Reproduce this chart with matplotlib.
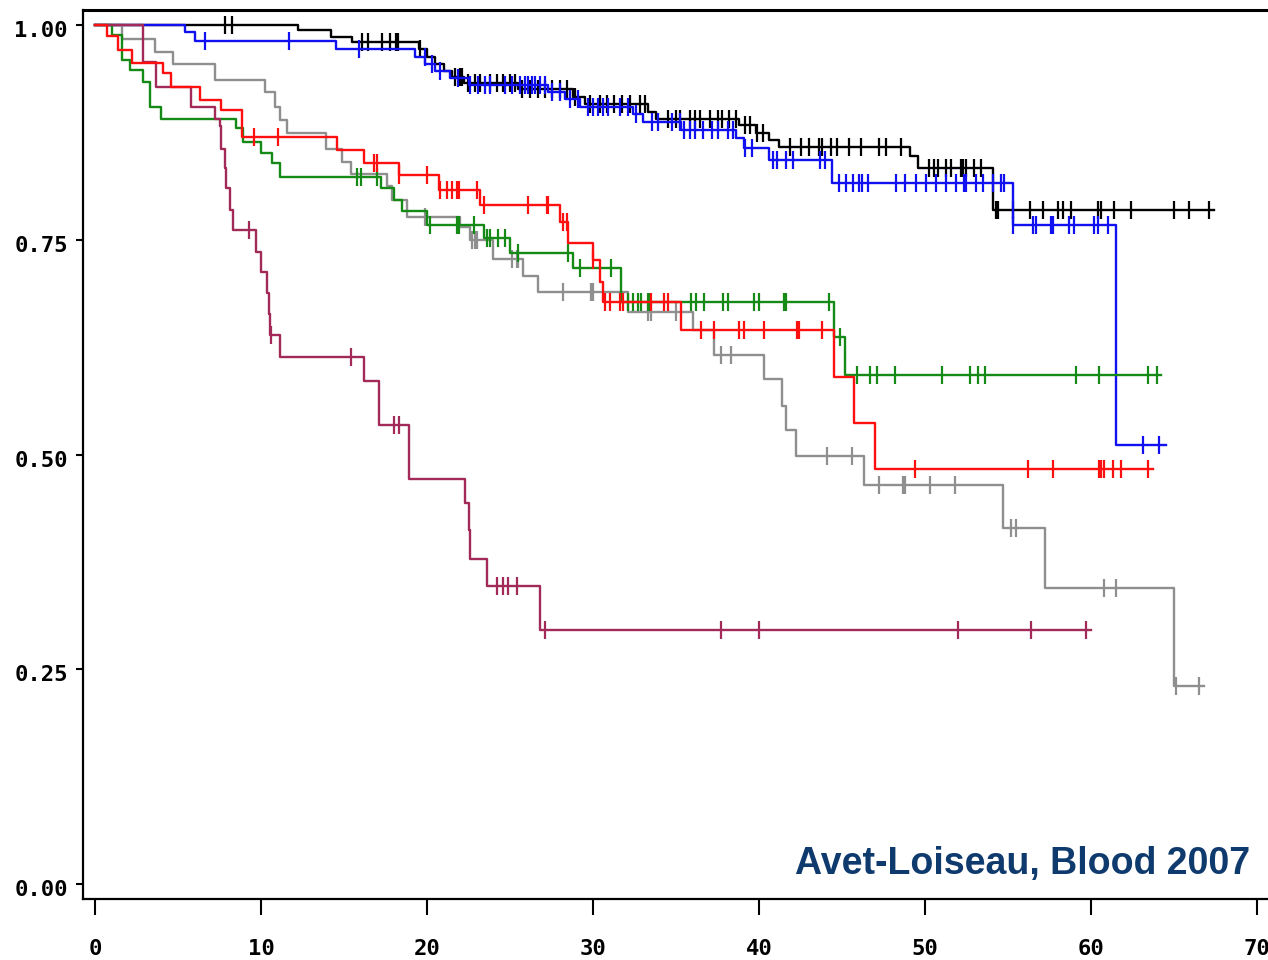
import numpy as np
import matplotlib.pyplot as plt
from matplotlib.transforms import ScaledTranslation

# Kaplan-Meier curves: step times (months), survival after each step, last follow-up, censored times
black_t = [0, 12.2, 14.2, 15.5, 19.5, 20.0, 20.5, 21.0, 21.5, 22.2, 25.5, 28.8, 29.5, 33.3, 33.8,
           38.8, 39.8, 40.6, 41.2, 49.1, 49.6, 54.1]
black_s = [1.0, 0.994, 0.986, 0.980, 0.972, 0.963, 0.955, 0.947, 0.940, 0.932, 0.925, 0.916, 0.908,
           0.899, 0.890, 0.883, 0.874, 0.866, 0.858, 0.847, 0.834, 0.785]
black_end = 67.4
black_cens = [7.84, 8.26, 16.09, 16.46, 17.30, 17.78, 18.14, 18.26, 19.59, 21.70, 22.00, 22.12, 22.48,
              22.91, 23.21, 23.81, 24.23, 24.59, 25.02, 25.32, 25.74, 26.22, 26.70, 27.12, 27.55,
              28.03, 28.45, 28.93, 29.84, 30.44, 30.86, 31.28, 31.77, 32.25, 32.85, 33.15, 34.54,
              35.02, 35.26, 35.86, 36.17, 36.47, 37.07, 37.55, 37.79, 38.16, 38.58, 39.18, 39.48,
              39.90, 40.21, 41.89, 42.50, 42.98, 43.58, 43.82, 44.31, 44.67, 45.39, 46.11, 47.20,
              47.62, 48.52, 50.21, 50.51, 50.75, 51.24, 51.54, 52.14, 52.26, 52.44, 52.92, 53.35,
              54.25, 54.40, 55.30, 56.30, 57.10, 58.00, 58.30, 58.80, 60.40, 60.60, 61.40, 62.40,
              65.00, 65.90, 67.10]

blue_t = [0, 5.4, 6.0, 14.5, 19.3, 19.9, 20.5, 21.4, 22.5, 27.3, 28.3, 29.2, 32.4, 33.0, 35.3,
          38.6, 39.1, 40.6, 44.4, 55.3, 61.5]
blue_s = [1.0, 0.992, 0.981, 0.972, 0.963, 0.955, 0.947, 0.938, 0.930, 0.922, 0.914, 0.905, 0.896,
          0.887, 0.878, 0.868, 0.857, 0.843, 0.816, 0.767, 0.511]
blue_end = 64.5
blue_cens = [6.6, 11.7, 15.9, 19.89, 20.31, 20.80, 21.88, 22.60, 23.09, 23.51, 23.81, 24.71, 25.14,
             25.62, 25.92, 26.10, 26.34, 26.52, 26.82, 27.12, 27.55, 28.03, 28.63, 29.11, 29.72,
             30.02, 30.32, 30.62, 30.92, 31.65, 32.13, 32.61, 33.57, 33.94, 34.78, 35.26, 35.50,
             35.86, 36.17, 36.65, 37.19, 37.55, 38.10, 38.40, 39.18, 39.60, 40.81, 41.11, 41.65,
             42.07, 43.70, 44.00, 44.79, 45.21, 45.63, 45.99, 46.23, 46.59, 48.22, 48.82, 49.43,
             50.03, 50.63, 51.24, 51.84, 52.32, 52.44, 53.04, 53.47, 54.07, 54.55, 54.73, 55.30,
             56.48, 56.66, 57.56, 57.69, 58.65, 58.95, 60.16, 60.40, 61.00, 63.11, 64.07]

red_t = [0, 0.7, 1.4, 2.2, 4.1, 4.6, 6.3, 7.6, 8.85, 14.6, 16.2, 18.3, 20.7, 23.2, 28.0, 28.5,
         30.0, 30.4, 30.6, 35.3, 44.5, 45.7, 47.0]
red_s = [1.0, 0.987, 0.971, 0.956, 0.944, 0.928, 0.913, 0.901, 0.870, 0.854, 0.839, 0.825, 0.808,
         0.790, 0.771, 0.746, 0.726, 0.701, 0.678, 0.645, 0.590, 0.537, 0.483]
red_end = 63.7
red_cens = [9.6, 11.0, 16.8, 17.0, 18.3, 20.0, 20.8, 21.2, 21.5, 21.8, 21.9, 23.0, 23.4, 26.1,
            27.2, 27.3, 28.2, 28.4, 30.0, 30.7, 31.0, 31.6, 31.8, 33.5, 34.3, 34.5, 36.5, 37.3,
            38.8, 39.1, 40.3, 42.3, 42.4, 43.8, 49.4, 56.2, 57.7, 60.5, 60.6, 60.8, 61.3, 61.8,
            63.4]

green_t = [0, 1.0, 1.6, 2.1, 2.9, 3.3, 4.0, 8.5, 8.9, 10.0, 10.65, 11.15, 17.2, 18.0, 18.5, 20.0,
           23.4, 25.0, 28.8, 31.7, 44.5, 45.2]
green_s = [1.0, 0.988, 0.959, 0.948, 0.934, 0.905, 0.891, 0.880, 0.864, 0.851, 0.839, 0.823, 0.810,
           0.796, 0.783, 0.767, 0.752, 0.734, 0.717, 0.678, 0.637, 0.593]
green_end = 64.2
green_cens = [15.8, 16.0, 17.0, 20.2, 21.8, 21.9, 22.8, 23.6, 23.8, 24.3, 24.7, 25.5, 28.5, 29.2,
              31.1, 32.1, 32.4, 32.7, 32.9, 33.3, 33.35, 35.9, 36.2, 36.7, 37.8, 38.1, 39.7, 40.0,
              41.5, 41.6, 44.2, 44.9, 45.9, 46.7, 47.1, 48.2, 51.0, 52.7, 53.2, 53.6, 59.1, 60.5,
              63.4, 64.0]

gray_t = [0, 1.6, 3.6, 4.7, 7.2, 10.25, 10.85, 11.15, 11.55, 13.9, 14.9, 15.4, 17.6, 17.9, 18.8,
          22.0, 22.6, 24.0, 25.8, 26.7, 32.1, 36.0, 37.3, 40.3, 41.4, 41.6, 42.2, 46.3, 54.7,
          57.2, 65.0]
gray_s = [1.0, 0.984, 0.969, 0.955, 0.936, 0.922, 0.905, 0.889, 0.874, 0.856, 0.841, 0.827, 0.812,
          0.796, 0.777, 0.765, 0.750, 0.728, 0.708, 0.689, 0.666, 0.645, 0.616, 0.588, 0.556,
          0.529, 0.498, 0.465, 0.414, 0.345, 0.230]
gray_end = 66.8
gray_cens = [19.9, 22.7, 22.9, 23.0, 25.1, 25.4, 25.5, 28.2, 29.9, 30.0, 33.3, 33.5, 35.0, 37.7,
             38.3, 44.1, 45.6, 47.2, 48.7, 48.8, 50.3, 51.8, 55.2, 55.5, 60.8, 61.5, 65.1, 66.5]

maroon_t = [0, 2.9, 3.7, 5.8, 7.2, 7.5, 7.6, 7.8, 7.9, 8.1, 8.3, 9.7, 10.0, 10.35, 10.5, 10.55,
            11.15, 16.2, 17.1, 18.9, 22.3, 22.5, 22.6, 23.6, 26.8]
maroon_s = [1.0, 0.957, 0.928, 0.905, 0.890, 0.882, 0.856, 0.833, 0.810, 0.785, 0.761, 0.736,
            0.713, 0.688, 0.664, 0.639, 0.614, 0.585, 0.534, 0.472, 0.443, 0.412, 0.378, 0.347,
            0.296]
maroon_end = 60.0
maroon_cens = [9.25, 10.6, 15.4, 18.0, 18.3, 24.2, 24.6, 24.9, 25.4, 27.1, 37.7, 40.0, 52.0, 56.4,
               59.7]

curves = [
    (black_t, black_s, black_end, black_cens, '#000000'),
    (blue_t, blue_s, blue_end, blue_cens, '#1010f0'),
    (gray_t, gray_s, gray_end, gray_cens, '#8f8f8f'),
    (green_t, green_s, green_end, green_cens, '#168a16'),
    (maroon_t, maroon_s, maroon_end, maroon_cens, '#a22a58'),
    (red_t, red_s, red_end, red_cens, '#ff1010'),
]

fig = plt.figure(figsize=(12.68, 9.6), dpi=100)
ax = fig.add_axes([0.0655, 0.0635, 0.9598, 0.9261])

for z, (t, s, end, cens, col) in enumerate(curves):
    x = list(t) + [end]
    y = list(s) + [s[-1]]
    ax.step(x, y, where='post', color=col, lw=1.7, zorder=2 + z)
    idx = np.searchsorted(t, cens, side='right') - 1
    cy = np.array(s)[idx]
    ax.plot(cens, cy, ls='none', marker='|', ms=12.5, mew=1.6, color=col, zorder=2 + z)

ax.set_xlim(-0.723, 72.59)
ax.set_ylim(-0.01746, 1.01746)

ax.set_xticks(np.arange(0, 71, 10))
ax.set_yticks([0, 0.25, 0.5, 0.75, 1.0])
ax.set_yticklabels(['0.00', '0.25', '0.50', '0.75', '1.00'])

for sp in ax.spines.values():
    sp.set_linewidth(1.6)
ax.spines['top'].set_linewidth(2.2)
ax.spines['right'].set_visible(False)

ax.tick_params(axis='x', direction='out', length=11.5, width=1.5, pad=17)
ax.tick_params(axis='y', direction='out', length=5, width=1.5, pad=6)
for lab in ax.get_xticklabels() + ax.get_yticklabels():
    lab.set_fontfamily('DejaVu Sans Mono')
    lab.set_fontweight('bold')
    lab.set_fontsize(16)
for lab in ax.get_yticklabels():
    lab.set_transform(lab.get_transform() + ScaledTranslation(0, -4 / 100, fig.dpi_scale_trans))

fig.text(0.9858, 0.1, 'Avet-Loiseau, Blood 2007', ha='right', va='center',
         fontfamily='Liberation Sans', fontweight='bold', fontsize=27, color='#0f3a6e')

fig.savefig('out.png', dpi=100)
